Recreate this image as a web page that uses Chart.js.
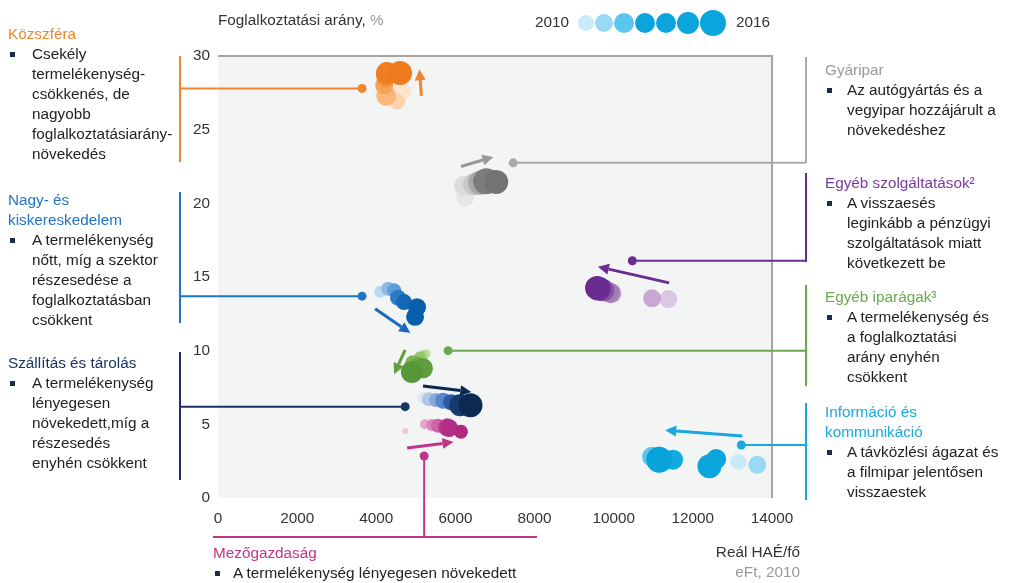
<!DOCTYPE html>
<html>
<head>
<meta charset="utf-8">
<script src="https://cdn.jsdelivr.net/npm/chart.js@4"></script>
<style>
body { margin: 0; background: #fff; }
#wrap { position: relative; width: 1009px; height: 583px; overflow: hidden;
  font-family: "Liberation Sans", Arial, sans-serif; color: #222; font-size: 15.3px; line-height: 20px; }
#wrap canvas { position: absolute; left: 0; top: 0; }
.t { position: absolute; white-space: nowrap; }
.b { position: relative; padding-left: 24px; }
.b::before { content: ""; position: absolute; left: 2px; top: 8px; width: 5px; height: 5px; background: #1c2b4a; }
.r .b { padding-left: 22px; }
.gray { color: #999; }
</style>
</head>
<body>
<div id="wrap">
  <canvas id="chart" width="1009" height="583"></canvas>

  <div class="t" style="left:218px;top:10px;color:#333">Foglalkoztatási arány, <span class="gray">%</span></div>
  <div class="t" style="left:535px;top:12px;color:#333">2010</div>
  <div class="t" style="left:736px;top:12px;color:#333">2016</div>
  <div class="t" style="right:209px;top:542px;text-align:right;color:#333">Reál HAÉ/fő<br><span class="gray">eFt, 2010</span></div>

  <div class="t" style="left:8px;top:24px">
    <div style="color:#f0852b">Közszféra</div>
    <div class="b">Csekély<br>termelékenység-<br>csökkenés, de<br>nagyobb<br>foglalkoztatásiarány-<br>növekedés</div>
  </div>
  <div class="t" style="left:8px;top:190px">
    <div style="color:#1f74c4">Nagy- és<br>kiskereskedelem</div>
    <div class="b">A termelékenység<br>nőtt, míg a szektor<br>részesedése a<br>foglalkoztatásban<br>csökkent</div>
  </div>
  <div class="t" style="left:8px;top:353px">
    <div style="color:#1a3460">Szállítás és tárolás</div>
    <div class="b">A termelékenység<br>lényegesen<br>növekedett,míg a<br>részesedés<br>enyhén csökkent</div>
  </div>

  <div class="t r" style="left:825px;top:60px">
    <div style="color:#999">Gyáripar</div>
    <div class="b">Az autógyártás és a<br>vegyipar hozzájárult a<br>növekedéshez</div>
  </div>
  <div class="t r" style="left:825px;top:173px">
    <div style="color:#7b3a9c">Egyéb szolgáltatások²</div>
    <div class="b">A visszaesés<br>leginkább a pénzügyi<br>szolgáltatások miatt<br>következett be</div>
  </div>
  <div class="t r" style="left:825px;top:287px">
    <div style="color:#6aa84f">Egyéb iparágak³</div>
    <div class="b">A termelékenység és<br>a foglalkoztatási<br>arány enyhén<br>csökkent</div>
  </div>
  <div class="t r" style="left:825px;top:402px">
    <div style="color:#1aa7e0">Információ és<br>kommunikáció</div>
    <div class="b">A távközlési ágazat és<br>a filmipar jelentősen<br>visszaestek</div>
  </div>
  <div class="t r" style="left:213px;top:543px">
    <div style="color:#c0358a">Mezőgazdaság</div>
    <div class="b" style="padding-left:20px">A termelékenység lényegesen növekedett</div>
  </div>
</div>

<script>
// years in each series: 2010 -> 2016
var years = ['2010', '2011', '2012', '2013', '2014', '2015', '2016'];
var xTicks = [0, 2000, 4000, 6000, 8000, 10000, 12000, 14000];
var yTicks = [0, 5, 10, 15, 20, 25, 30];

// [real GVA per worker (eFt), employment share (%), bubble size]
var kozszfera   = [[4650, 27.6, 9], [4530, 26.9, 8], [4250, 27.3, 10], [4200, 28.0, 9], [4250, 28.6, 10], [4270, 28.85, 11], [4600, 28.85, 12]];
var gyaripar    = [[6245, 20.4, 9], [6220, 21.2, 10], [6470, 21.3, 11], [6620, 21.4, 12], [6750, 21.45, 12], [6780, 21.5, 13], [7030, 21.45, 12]];
var kereskedelem = [[4100, 14.0, 6], [4300, 14.2, 7], [4450, 14.1, 7], [4550, 13.6, 8], [4700, 13.3, 8], [5030, 12.95, 9], [4980, 12.3, 9]];
var szolgaltatas = [[11380, 13.5, 9], [10970, 13.55, 9], [9940, 13.9, 10], [9890, 13.95, 10], [9740, 14.1, 11], [9630, 14.2, 12], [9580, 14.25, 12]];
var iparagak    = [[5280, 9.85, 4], [5210, 9.7, 5], [5110, 9.55, 6], [4930, 9.15, 8], [5060, 8.95, 9], [5180, 8.8, 10], [4900, 8.55, 11]];
var szallitas   = [[5180, 6.8, 6], [5330, 6.7, 7], [5510, 6.65, 7], [5690, 6.6, 8], [5890, 6.5, 8], [6120, 6.3, 11], [6380, 6.3, 12]];
var mezogazdasag = [[4730, 4.55, 3], [5230, 5.0, 5], [5410, 4.95, 6], [5560, 4.9, 7], [5790, 4.8, 9], [5840, 4.75, 9], [6140, 4.5, 7]];
var infokomm    = [[13150, 2.45, 8], [13630, 2.25, 9], [10970, 2.8, 10], [11500, 2.6, 10], [12590, 2.65, 10], [12420, 2.15, 12], [11150, 2.6, 13]];

var legendSizes = [8, 9, 10, 10, 10, 11, 13];

// year shades, light -> dark
var palettes = {
  kozszfera:    ['#fde4cf', '#fdd3ae', '#fbb679', '#f8a256', '#f28b34', '#ef7d22', '#ee7a1e'],
  gyaripar:     ['#e6e6e6', '#dcdcdc', '#c8c8c8', '#a8a8a8', '#8e8e8e', '#7c7c7c', '#737373'],
  kereskedelem: ['#bcd8f1', '#8dbbe6', '#5f9ed9', '#2c7ac4', '#1568b5', '#0a60ac', '#0760ad'],
  szolgaltatas: ['#dcc7e3', '#c8a8d3', '#b893c6', '#a47cb8', '#8954a6', '#73359a', '#6a2c91'],
  iparagak:     ['#cde6b5', '#b3d78f', '#94c66d', '#7bb655', '#6aa845', '#5f9e3e', '#58963a'],
  szallitas:    ['#dfe8f4', '#b1c8e8', '#86a9da', '#5686c9', '#2b5ba8', '#163a6e', '#0b2951'],
  mezogazdasag: ['#f0c4dc', '#e7a5ca', '#dc85b9', '#cd63a5', '#bb3f8f', '#b32f85', '#b0297f'],
  infokomm:     ['#c9eaf9', '#9ad9f4', '#5bc6ee', '#12a9df', '#0aa5dc', '#0aa5dc', '#08a3da']
};
var legendColors = ['#c9eaf9', '#9ad9f4', '#5bc6ee', '#0aa5dc', '#0aa5dc', '#0aa5dc', '#0aa5dc'];

var sectors = [
  ['Közszféra', kozszfera, 'kozszfera'],
  ['Gyáripar', gyaripar, 'gyaripar'],
  ['Nagy- és kiskereskedelem', kereskedelem, 'kereskedelem'],
  ['Egyéb szolgáltatások', szolgaltatas, 'szolgaltatas'],
  ['Egyéb iparágak', iparagak, 'iparagak'],
  ['Szállítás és tárolás', szallitas, 'szallitas'],
  ['Mezőgazdaság', mezogazdasag, 'mezogazdasag'],
  ['Információ és kommunikáció', infokomm, 'infokomm']
];

// leader lines: dot in data units, bracket in page pixels
var leaders = [
  { color: '#f0852b', dot: [3640, 27.8], side: 'left', top: 56, bottom: 162 },
  { color: '#1f74c4', dot: [3640, 13.7], side: 'left', top: 192, bottom: 323 },
  { color: '#1a3460', dot: [4730, 6.2], side: 'left', top: 352, bottom: 480 },
  { color: '#aaaaaa', dot: [7460, 22.75], side: 'right', top: 57, bottom: 163 },
  { color: '#6b2c91', dot: [10470, 16.1], side: 'right', top: 173, bottom: 262 },
  { color: '#6aa84f', dot: [5815, 10.0], side: 'right', top: 285, bottom: 386 },
  { color: '#1aa7e0', dot: [13225, 3.6], side: 'right', top: 403, bottom: 500 },
  { color: '#c0358a', dot: [5210, 2.85], side: 'down', top: 537, left: 213, right: 537 }
];

var arrows = [
  { color: '#f0852b', from: [5140, 27.3], to: [5090, 29.1] },
  { color: '#999999', from: [6140, 22.5], to: [6960, 23.15] },
  { color: '#1f6ab8', from: [3970, 12.85], to: [4860, 11.2] },
  { color: '#6b2c91', from: [11400, 14.6], to: [9600, 15.7] },
  { color: '#5f9e3e', from: [4730, 10.05], to: [4450, 8.4] },
  { color: '#0b2951', from: [5180, 7.6], to: [6400, 7.2] },
  { color: '#c0358a', from: [4780, 3.4], to: [5950, 3.8] },
  { color: '#1aa7e0', from: [13250, 4.2], to: [11300, 4.6] }
];

var decor = {
  id: 'decor',
  beforeDatasetsDraw: function(chart) {
    var ctx = chart.ctx, a = chart.chartArea;
    ctx.save();
    ctx.fillStyle = '#f3f4f4';
    ctx.fillRect(a.left, a.top, a.right - a.left, a.bottom - a.top);
    ctx.strokeStyle = '#a5a5a5';
    ctx.lineWidth = 2;
    ctx.beginPath();
    ctx.moveTo(a.left, a.top);
    ctx.lineTo(a.right, a.top);
    ctx.lineTo(a.right, a.bottom);
    ctx.stroke();
    ctx.restore();
  },
  afterDraw: function(chart) {
    var ctx = chart.ctx;
    var xs = chart.scales.x, ys = chart.scales.y;
    ctx.save();
    ctx.lineWidth = 2;
    leaders.forEach(function(l) {
      var px = xs.getPixelForValue(l.dot[0]);
      var py = ys.getPixelForValue(l.dot[1]);
      ctx.strokeStyle = l.color;
      ctx.fillStyle = l.color;
      ctx.beginPath();
      if (l.side == 'left') {
        ctx.moveTo(180, l.top); ctx.lineTo(180, l.bottom);
        ctx.moveTo(180, py); ctx.lineTo(px, py);
      } else if (l.side == 'right') {
        ctx.moveTo(806, l.top); ctx.lineTo(806, l.bottom);
        ctx.moveTo(806, py); ctx.lineTo(px, py);
      } else {
        ctx.moveTo(px, py); ctx.lineTo(px, l.top);
        ctx.moveTo(l.left, l.top); ctx.lineTo(l.right, l.top);
      }
      ctx.stroke();
      ctx.beginPath();
      ctx.arc(px, py, 4.5, 0, Math.PI * 2);
      ctx.fill();
    });

    ctx.lineWidth = 3;
    arrows.forEach(function(ar) {
      var x1 = xs.getPixelForValue(ar.from[0]), y1 = ys.getPixelForValue(ar.from[1]);
      var x2 = xs.getPixelForValue(ar.to[0]), y2 = ys.getPixelForValue(ar.to[1]);
      var ang = Math.atan2(y2 - y1, x2 - x1);
      var hl = 11, hw = 5.5;
      var bx = x2 - Math.cos(ang) * hl, by = y2 - Math.sin(ang) * hl;
      ctx.strokeStyle = ar.color;
      ctx.fillStyle = ar.color;
      ctx.beginPath();
      ctx.moveTo(x1, y1);
      ctx.lineTo(bx, by);
      ctx.stroke();
      ctx.beginPath();
      ctx.moveTo(x2, y2);
      ctx.lineTo(bx + Math.sin(ang) * hw, by - Math.cos(ang) * hw);
      ctx.lineTo(bx - Math.sin(ang) * hw, by + Math.cos(ang) * hw);
      ctx.closePath();
      ctx.fill();
    });

    // year legend
    var cx = 578;
    legendSizes.forEach(function(r, i) {
      cx += r;
      ctx.fillStyle = legendColors[i];
      ctx.beginPath();
      ctx.arc(cx, 23, r, 0, Math.PI * 2);
      ctx.fill();
      cx += r + 1;
    });
    ctx.restore();
  }
};

var tickFont = { family: '"Liberation Sans", Arial, sans-serif', size: 15.3 };

new Chart(document.getElementById('chart').getContext('2d'), {
  type: 'bubble',
  data: {
    datasets: sectors.map(function(s) {
      return {
        label: s[0],
        data: s[1].map(function(p, i) { return { x: p[0], y: p[1], r: p[2], year: years[i] }; }),
        backgroundColor: palettes[s[2]],
        borderWidth: 0,
        hoverBorderWidth: 0
      };
    })
  },
  options: {
    responsive: false,
    animation: false,
    events: [],
    devicePixelRatio: 1,
    layout: { padding: { left: 150, right: 237, top: 56, bottom: 55 } },
    plugins: { legend: { display: false }, tooltip: { enabled: false } },
    scales: {
      x: {
        type: 'linear', min: 0, max: 14000,
        afterBuildTicks: function(s) { s.ticks = xTicks.map(function(v) { return { value: v }; }); },
        afterFit: function(s) { s.height = 30; },
        grid: { display: false, drawTicks: false },
        border: { display: false },
        ticks: { color: '#333', font: tickFont, padding: 12, maxRotation: 0, autoSkip: false,
                 callback: function(v) { return String(v); } }
      },
      y: {
        type: 'linear', min: 0, max: 30,
        afterBuildTicks: function(s) { s.ticks = yTicks.map(function(v) { return { value: v }; }); },
        afterFit: function(s) { s.width = 68; },
        grid: { display: false, drawTicks: false },
        border: { display: false },
        ticks: { color: '#333', font: tickFont, padding: 8,
                 callback: function(v) { return String(v); } }
      }
    }
  },
  plugins: [decor]
});
</script>
</body>
</html>
